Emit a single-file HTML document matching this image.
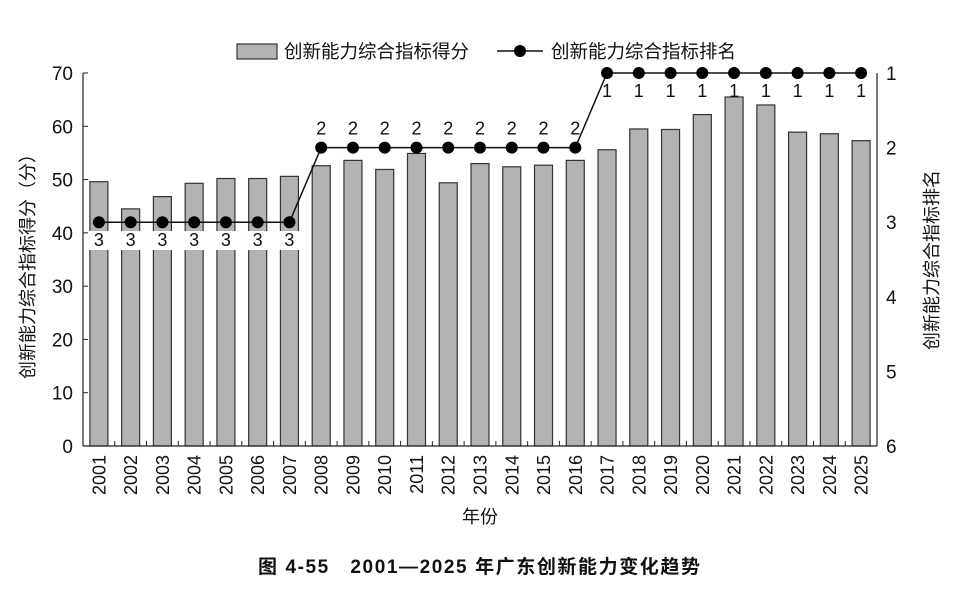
<!DOCTYPE html>
<html><head><meta charset="utf-8"><style>
html,body{margin:0;padding:0;background:#fff;}
svg text{font-family:"Liberation Sans","Noto Sans CJK SC",sans-serif;fill:#111;}
</style></head><body>
<svg width="958" height="588" viewBox="0 0 958 588" xmlns="http://www.w3.org/2000/svg">
<g id="bars"></g>
<rect x="83" y="231" width="218" height="19" fill="#fff"/>
<g id="axes" stroke="#222" stroke-width="1.2" fill="none">
<line x1="83" y1="73" x2="83" y2="446"/>
<line x1="877" y1="73" x2="877" y2="446"/>
<line x1="83" y1="446" x2="877" y2="446"/>
</g>
<g id="ticks" stroke="#222" stroke-width="1"></g>
<g id="line"></g>
<g id="labels" font-size="17"></g>
<rect x="237" y="44" width="40" height="15" fill="#b3b3b3" stroke="#333" stroke-width="1.2"/>
<text x="284" y="58" font-size="18.5">创新能力综合指标得分</text>
<line x1="497" y1="51" x2="543" y2="51" stroke="#111" stroke-width="1.5"/>
<circle cx="520" cy="51" r="6" fill="#000"/>
<text x="551" y="58" font-size="18.5">创新能力综合指标排名</text>
<text x="480" y="523" font-size="18" text-anchor="middle">年份</text>
<text transform="translate(34 262) rotate(-90)" font-size="18" text-anchor="middle">创新能力综合指标得分（分）</text>
<text transform="translate(938 260) rotate(-90)" font-size="18" text-anchor="middle">创新能力综合指标排名</text>
<text x="479" y="573" font-size="19" font-weight="bold" text-anchor="middle" textLength="442">图 4-55　2001—2025 年广东创新能力变化趋势</text>
</svg>
<script>
const v=[49.6,44.5,46.8,49.3,50.2,50.2,50.6,52.6,53.6,51.9,54.9,49.4,53.0,52.4,52.7,53.6,55.6,59.5,59.4,62.2,65.5,64.0,58.9,58.6,57.3];
const r=[3,3,3,3,3,3,3,2,2,2,2,2,2,2,2,2,1,1,1,1,1,1,1,1,1];
const ns="http://www.w3.org/2000/svg";
function el(p,t,a,txt){const e=document.createElementNS(ns,t);for(const k in a)e.setAttribute(k,a[k]);if(txt!==undefined)e.textContent=txt;document.getElementById(p).appendChild(e);return e;}
const sp=31.76, x0=83, yb=446, ys=373/70;
const ry=k=>73+(k-1)*74.6;
let pts=[];
v.forEach((val,i)=>{
 const cx=x0+sp*(i+0.5);
 const h=val*ys;
 el("bars","rect",{x:cx-9,y:yb-h,width:18,height:h,fill:"#b3b3b3",stroke:"#333","stroke-width":1.2});
 el("labels","text",{transform:`translate(${cx+6.5} 455) rotate(-90)`,"text-anchor":"end","font-size":18},String(2001+i));
 pts.push([cx,ry(r[i])]);
 el("ticks","line",{x1:x0+sp*(i+1),y1:yb,x2:x0+sp*(i+1),y2:yb-5});
});
el("line","polyline",{points:pts.map(p=>p.join(",")).join(" "),fill:"none",stroke:"#111","stroke-width":1.5});
pts.forEach((p,i)=>{
 el("line","circle",{cx:p[0],cy:p[1],r:6,fill:"#000"});
 const k=r[i];
 const ty=k===2?p[1]-13:p[1]+24;
 el("labels","text",{x:p[0],y:ty,"text-anchor":"middle","font-size":18},String(k));
});
for(let t=0;t<=70;t+=10){const y=yb-t*ys;
 el("ticks","line",{x1:x0,y1:y,x2:x0+5,y2:y});
 el("labels","text",{x:73,y:y+7,"text-anchor":"end","font-size":19},String(t));}
for(let k=1;k<=6;k++){el("labels","text",{x:886,y:ry(k)+7,"font-size":19},String(k));}
</script>
</body></html>
